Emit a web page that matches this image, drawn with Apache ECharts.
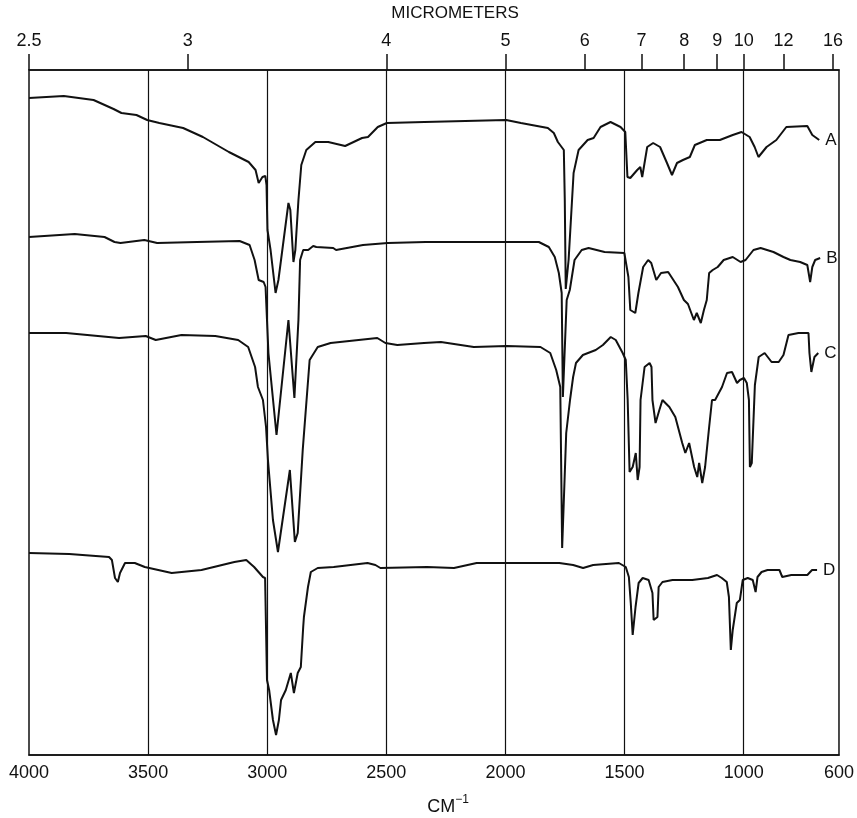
<!DOCTYPE html>
<html>
<head>
<meta charset="utf-8">
<title>IR spectra A-D</title>
<script src="https://cdn.jsdelivr.net/npm/echarts@6/dist/echarts.min.js"></script>
<style>
    html, body { margin: 0; padding: 0; background: #fff; }
    #chart { width: 857px; height: 818px; }
</style>
</head>
<body>
<div id="chart"></div>
<script>
// wavenumber ticks (bottom) and micrometer ticks (top)
var wavenumberTicks = [4000, 3500, 3000, 2500, 2000, 1500, 1000, 600];
var gridWavenumbers = [3500, 3000, 2500, 2000, 1500, 1000];
var micrometerTicks = [2.5, 3, 4, 5, 6, 7, 8, 9, 10, 12, 16];
var curveNames = ['A', 'B', 'C', 'D'];

// spectra: [cm-1, offset transmittance (arbitrary units)]
var spectrumA = [
    [4000, 131.4], [3854, 131.8], [3729, 131], [3645, 129.2], [3612, 128.4], [3549, 128], [3504, 127],
    [3453, 126.4], [3353, 125.4], [3270, 123.6], [3161, 120.6], [3078, 118.6], [3049, 117], [3036, 114.4],
    [3020, 115.6], [3008, 115.8], [3003, 114], [2999, 105], [2986, 101], [2965, 92.4], [2953, 95],
    [2911, 110.4], [2903, 109], [2890, 98.6], [2882, 101], [2869, 111], [2857, 118], [2836, 121],
    [2798, 122.6], [2744, 122.6], [2673, 121.8], [2602, 123.4], [2577, 123.6], [2536, 125.6], [2498, 126.4],
    [2340, 126.6], [1997, 127], [1935, 126.4], [1822, 125.4], [1797, 124.4], [1780, 122.6], [1755, 121],
    [1751, 111], [1747, 93.2], [1740, 93], [1735, 99], [1714, 116.4], [1693, 121], [1655, 123], [1630, 123.4],
    [1601, 125.6], [1559, 126.6], [1517, 125.6], [1497, 124.6], [1488, 115.6], [1476, 115.4], [1447, 117],
    [1434, 117.6], [1426, 115.6], [1405, 121.6], [1380, 122.4], [1351, 121.6], [1322, 118.4], [1301, 116],
    [1280, 118.4], [1255, 119], [1226, 119.6], [1205, 122], [1155, 123], [1100, 123], [1046, 124],
    [1009, 124.6], [975, 123.6], [954, 121.6], [938, 119.6], [904, 121.6], [863, 123], [821, 125.6],
    [733, 125.8], [712, 124], [683, 123]
];
var spectrumB = [
    [4000, 103.6], [3808, 104.2], [3683, 103.6], [3641, 102.6], [3616, 102.4], [3516, 103], [3462, 102.4],
    [3295, 102.6], [3116, 102.8], [3074, 102], [3053, 99], [3036, 95], [3015, 94.6], [3007, 93.6],
    [2995, 80.4], [2961, 64], [2911, 87], [2886, 71.4], [2869, 87], [2862, 99], [2849, 101], [2828, 101],
    [2807, 101.8], [2794, 101.6], [2723, 101.4], [2711, 101], [2598, 102], [2494, 102.4], [2335, 102.6],
    [2068, 102.6], [1860, 102.6], [1818, 101.6], [1793, 99.6], [1776, 96.4], [1764, 92.4], [1759, 71.6],
    [1743, 91], [1730, 93], [1710, 99], [1680, 101], [1651, 101.4], [1584, 100.6], [1501, 100.4],
    [1484, 95.6], [1476, 89], [1455, 88.4], [1442, 92.4], [1422, 97.6], [1401, 99], [1388, 98.4],
    [1367, 95], [1347, 96.4], [1317, 96.6], [1276, 93.6], [1251, 91], [1234, 90.2], [1209, 87],
    [1197, 88.4], [1180, 86.4], [1167, 89], [1155, 91], [1145, 96.4], [1130, 97], [1109, 97.6],
    [1084, 99], [1046, 99.6], [1013, 98.6], [992, 99], [959, 101], [929, 101.4], [875, 100.6], [833, 99.6],
    [804, 99], [763, 98.6], [733, 98], [721, 94.6], [712, 97.6], [700, 99], [679, 99.4]
];
var spectrumC = [
    [4000, 84.4], [3844, 84.4], [3622, 83.4], [3510, 83.8], [3468, 83], [3360, 84], [3218, 83.8],
    [3122, 83], [3080, 81.6], [3051, 77.6], [3039, 73.6], [3018, 71], [3005, 65.6], [2997, 59],
    [2976, 47], [2955, 40.6], [2905, 57], [2884, 42.6], [2872, 44.4], [2851, 61], [2822, 79], [2788, 81.6],
    [2734, 82.4], [2538, 83.4], [2504, 82.4], [2454, 82], [2342, 82.4], [2271, 82.6], [2133, 81.6],
    [1995, 81.8], [1853, 81.6], [1812, 80.4], [1787, 77], [1770, 73.6], [1762, 41.4], [1745, 64.4],
    [1729, 71], [1716, 75.6], [1704, 78.4], [1675, 80], [1621, 81], [1591, 82], [1558, 83.6], [1537, 83],
    [1508, 80.4], [1495, 79], [1487, 71], [1479, 56.6], [1466, 57.6], [1453, 60.4], [1445, 55],
    [1437, 57.6], [1433, 71], [1416, 77.6], [1395, 78.4], [1387, 77.6], [1383, 71], [1370, 66.4],
    [1354, 69], [1341, 71], [1312, 69.6], [1287, 67.6], [1258, 62.4], [1245, 60.4], [1229, 62.4],
    [1208, 57.6], [1195, 55.6], [1187, 58.4], [1174, 54.4], [1162, 57.6], [1145, 65.6], [1133, 71],
    [1120, 71], [1091, 73.6], [1070, 76.4], [1049, 76.6], [1028, 74.4], [1016, 75], [999, 75.4],
    [987, 74.4], [978, 71], [974, 57.6], [966, 58.4], [953, 74], [937, 79.6], [912, 80.4], [883, 78.6],
    [853, 78.6], [833, 80], [812, 84], [770, 84.4], [728, 84.4], [724, 80.4], [716, 76.6], [703, 79.6],
    [687, 80.4]
];
var spectrumD = [
    [4000, 40.4], [3831, 40.2], [3664, 39.6], [3652, 39], [3639, 35.4], [3627, 34.6], [3618, 36.4],
    [3597, 38.4], [3556, 38.4], [3514, 37.6], [3401, 36.4], [3276, 37], [3138, 38.6], [3088, 39],
    [3055, 37.6], [3018, 35.6], [3009, 35.4], [3001, 15], [2992, 13], [2976, 7], [2963, 4], [2951, 7],
    [2942, 11], [2922, 13], [2901, 16.4], [2888, 12.4], [2872, 16.4], [2859, 17.6], [2849, 25.6],
    [2846, 27.6], [2829, 33.6], [2817, 36.6], [2788, 37.4], [2721, 37.6], [2579, 38.4], [2546, 38],
    [2525, 37.4], [2329, 37.6], [2216, 37.4], [2121, 38.4], [1996, 38.4], [1774, 38.4], [1716, 38],
    [1674, 37.4], [1632, 38], [1524, 38.4], [1495, 37.6], [1482, 35.6], [1474, 30.4], [1466, 24],
    [1454, 29.6], [1441, 34.4], [1424, 35.4], [1399, 35], [1383, 32.4], [1378, 27], [1362, 27.6],
    [1357, 33.6], [1341, 34.6], [1299, 35], [1216, 35], [1150, 35.4], [1112, 36], [1092, 35.4],
    [1071, 34.6], [1062, 31.6], [1054, 21], [1046, 25], [1029, 30.4], [1016, 31], [1004, 35], [983, 35.4],
    [962, 35], [950, 32.6], [942, 35.6], [925, 36.6], [900, 37], [850, 37], [838, 35.6], [800, 36],
    [733, 36], [713, 37], [692, 37]
];

var spectra = [spectrumA, spectrumB, spectrumC, spectrumD];
var FONT = '"Liberation Sans", Arial, Helvetica, sans-serif';
var INK = '#111';

var chart = echarts.init(document.getElementById('chart'), null, { renderer: 'canvas' });

var series = spectra.map(function (data, i) {
    var s = {
        name: curveNames[i],
        type: 'line',
        xAxisIndex: 0,
        data: data,
        showSymbol: false,
        symbol: 'none',
        smooth: false,
        lineStyle: { color: INK, width: 2 },
        // curve letter just past the last point of each trace
        markPoint: {
            silent: true,
            symbol: 'circle',
            symbolSize: 0,
            label: {
                show: true,
                position: 'right',
                distance: 6,
                formatter: curveNames[i],
                color: INK,
                fontFamily: FONT,
                fontSize: 17
            },
            data: [{ coord: data[data.length - 1] }]
        },
        silent: true
    };
    if (i === 0) {
        // vertical grid lines at the round wavenumbers
        s.markLine = {
            silent: true,
            symbol: ['none', 'none'],
            label: { show: false },
            lineStyle: { color: INK, width: 1.2, type: 'solid' },
            data: gridWavenumbers.map(function (v) { return { xAxis: v }; })
        };
    }
    return s;
});

var option = {
    animation: false,
    backgroundColor: '#fff',
    title: [{
        text: 'MICROMETERS',
        left: 455,
        top: 5,
        padding: 0,
        textAlign: 'center',
        textStyle: { fontFamily: FONT, fontSize: 17, fontWeight: 'normal', color: INK }
    }, {
        text: '{a|CM}{b|−1}',
        left: 448,
        top: 794,
        padding: 0,
        textAlign: 'center',
        textStyle: {
            fontFamily: FONT, fontWeight: 'normal', color: INK,
            rich: {
                a: { fontFamily: FONT, fontSize: 18, color: INK, lineHeight: 22, verticalAlign: 'bottom' },
                b: { fontFamily: FONT, fontSize: 12, color: INK, lineHeight: 22, verticalAlign: 'top' }
            }
        }
    }],
    grid: {
        left: 29,
        right: 11,
        top: 70,
        bottom: 63,
        show: true,
        borderColor: INK,
        borderWidth: 1.5,
        backgroundColor: 'transparent'
    },
    xAxis: [{
        type: 'value',
        position: 'bottom',
        min: 600,
        max: 4000,
        inverse: true,
        axisLine: { show: true, lineStyle: { color: INK, width: 1.5 } },
        axisTick: { show: false, customValues: wavenumberTicks },
        splitLine: { show: false },
        axisLabel: {
            customValues: wavenumberTicks,
            formatter: function (v) { return String(v); },
            color: INK,
            fontFamily: FONT,
            fontSize: 18,
            margin: 9
        }
    }, {
        type: 'value',
        position: 'top',
        min: 600,
        max: 4000,
        inverse: true,
        axisLine: { show: true, lineStyle: { color: INK, width: 1.5 } },
        axisTick: {
            show: true,
            inside: false,
            length: 16,
            lineStyle: { color: INK, width: 1.5 },
            customValues: micrometerTicks.map(function (m) { return 10000 / m; })
        },
        splitLine: { show: false },
        axisLabel: {
            customValues: micrometerTicks.map(function (m) { return 10000 / m; }),
            formatter: function (v) { return String(Math.round(10000 / v * 10) / 10); },
            color: INK,
            fontFamily: FONT,
            fontSize: 18,
            margin: 20
        }
    }],
    yAxis: {
        type: 'value',
        min: 0,
        max: 137,
        show: false,
        splitLine: { show: false }
    },
    series: series
};

chart.setOption(option);
</script>
</body>
</html>
